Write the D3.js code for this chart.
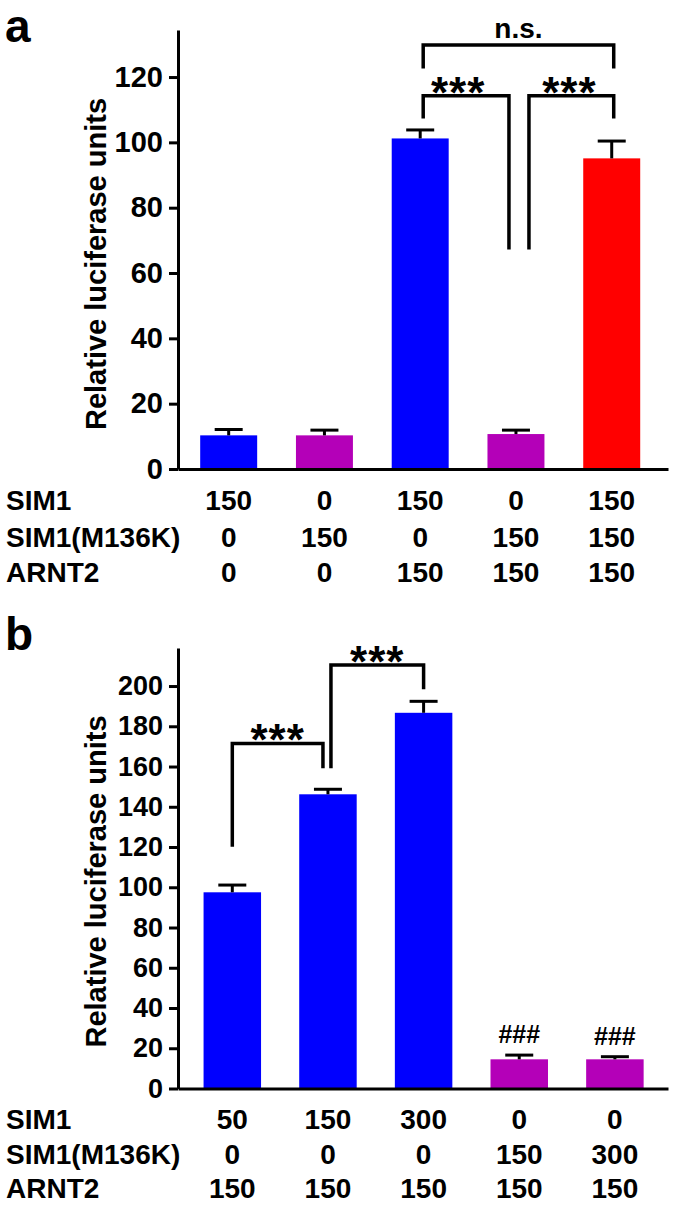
<!DOCTYPE html>
<html>
<head>
<meta charset="utf-8">
<script src="https://cdn.jsdelivr.net/npm/d3@7"></script>
<style>
  html, body { margin: 0; padding: 0; background: #fff; }
  svg { display: block; }
  text { font-family: "Liberation Sans", Arial, Helvetica, sans-serif; font-weight: bold; fill: #000; }
</style>
</head>
<body>
<svg id="chart" width="675" height="1206"></svg>
<script>
// ---------- DATA ----------
const categories = ["g1", "g2", "g3", "g4", "g5"];
const rowLabels = ["SIM1", "SIM1(M136K)", "ARNT2"];

// Panel a
const aSIM1   = [150, 0, 150, 0, 150];
const aM136K  = [0, 150, 0, 150, 150];
const aARNT2  = [0, 0, 150, 150, 150];
const aMeans  = [10.3, 10.3, 101.2, 10.7, 95.1];
const aErrors = [1.8, 1.6, 2.6, 1.2, 5.3];
const aTicks  = [0, 20, 40, 60, 80, 100, 120];
const aBrackets = [
  { from: 2, to: 4, y: 129.8, dropFrom: 122.6, dropTo: 122.6, label: "n.s." },
  { from: 2, to: 3, y: 114.3, dropFrom: 107.3, dropTo: 67.2, label: "***" },
  { from: 3, to: 4, y: 114.3, dropFrom: 67.2, dropTo: 107.3, label: "***" }
];

// Panel b
const bSIM1   = [50, 150, 300, 0, 0];
const bM136K  = [0, 0, 0, 150, 300];
const bARNT2  = [150, 150, 150, 150, 150];
const bMeans  = [97.5, 146.2, 186.7, 14.5, 14.5];
const bErrors = [3.6, 2.5, 5.7, 2.1, 1.3];
const bTicks  = [0, 20, 40, 60, 80, 100, 120, 140, 160, 180, 200];
const bBrackets = [
  { from: 0, to: 1, y: 171.5, dropFrom: 120.1, dropTo: 159.1, label: "***" },
  { from: 1, to: 2, y: 210.4, dropFrom: 159.1, dropTo: 198.4, label: "***" }
];
const bMarks = ["", "", "", "###", "###"];

// ---------- STYLE / LAYOUT ----------
const BLUE = "#0000ff", MAG = "#b400b8", RED = "#ff0000";
const svg = d3.select("#chart");

function drawPanel(cfg) {
  const g = svg.append("g");
  const x = d3.scaleBand().domain(categories).range(cfg.xRange)
    .paddingInner(cfg.pi).paddingOuter(cfg.po).align(cfg.align);
  const y = d3.scaleLinear().domain(cfg.yDomain).range(cfg.yRange);
  const cx = i => x(categories[i]) + x.bandwidth() / 2;

  // panel letter
  g.append("text").attr("x", cfg.letterPos[0]).attr("y", cfg.letterPos[1])
    .style("font-size", "46px").text(cfg.letter);

  // bars
  g.selectAll("rect.bar").data(cfg.means).enter().append("rect")
    .attr("x", (d, i) => x(categories[i]))
    .attr("width", x.bandwidth())
    .attr("y", d => y(d))
    .attr("height", d => y(0) - y(d))
    .attr("fill", (d, i) => cfg.colors[i]);

  // error bars
  const eb = g.append("g").attr("stroke", "#000").attr("stroke-width", 3);
  cfg.means.forEach((m, i) => {
    eb.append("line").attr("x1", cx(i)).attr("x2", cx(i))
      .attr("y1", y(m)).attr("y2", y(m + cfg.errors[i]));
    eb.append("line").attr("x1", cx(i) - 14).attr("x2", cx(i) + 14)
      .attr("y1", y(m + cfg.errors[i])).attr("y2", y(m + cfg.errors[i]));
  });

  // y axis
  const ya = g.append("g").attr("transform", `translate(${cfg.xRange[0]},0)`)
    .call(d3.axisLeft(y).tickValues(cfg.ticks).tickSize(9).tickSizeOuter(0).tickPadding(6));
  ya.selectAll("path, line").attr("stroke", "#000").attr("stroke-width", 3);
  ya.selectAll("text").style("font-size", cfg.tickFont + "px")
    .attr("font-family", null).attr("fill", "#000");
  ya.attr("font-family", null).attr("font-size", null);

  // x axis baseline
  const xa = g.append("g").attr("transform", `translate(0,${y(0)})`)
    .call(d3.axisBottom(x).tickSize(0).tickSizeOuter(0).tickFormat(""));
  xa.selectAll("path").attr("stroke", "#000").attr("stroke-width", 3);
  xa.selectAll(".tick").remove();

  // y title
  g.append("text")
    .attr("transform", `translate(${cfg.titlePos[0]},${cfg.titlePos[1]}) rotate(-90)`)
    .attr("text-anchor", "middle").style("font-size", "29px")
    .text("Relative luciferase units");

  // rows
  cfg.rows.forEach((vals, r) => {
    g.append("text").attr("x", 6).attr("y", cfg.rowY[r])
      .style("font-size", "28px").text(rowLabels[r]);
    vals.forEach((v, i) => {
      g.append("text").attr("x", cx(i)).attr("y", cfg.rowY[r])
        .attr("text-anchor", "middle").style("font-size", "28px").text(v);
    });
  });

  // brackets
  cfg.brackets.forEach(b => {
    const x1 = cx(b.from) + (b.offFrom || 0);
    const x2 = cx(b.to) + (b.offTo || 0);
    g.append("path")
      .attr("d", `M${x1},${y(b.dropFrom)}V${y(b.y)}H${x2}V${y(b.dropTo)}`)
      .attr("fill", "none").attr("stroke", "#000").attr("stroke-width", 3.5)
      .attr("stroke-linejoin", "miter");
    if (b.label === "n.s.") {
      g.append("text").attr("x", (x1 + x2) / 2).attr("y", y(b.y) - 7)
        .attr("text-anchor", "middle").style("font-size", "28px").text(b.label);
    } else {
      g.append("text").attr("x", (x1 + x2) / 2 + (b.labelShift || 0)).attr("y", y(b.y) + 12)
        .attr("text-anchor", "middle").style("font-size", "44px")
        .style("letter-spacing", "1px").text(b.label);
    }
  });

  // marks above bars
  if (cfg.marks) {
    cfg.marks.forEach((m, i) => {
      if (!m) return;
      g.append("text").attr("x", cx(i)).attr("y", y(cfg.means[i] + cfg.errors[i]) - 12)
        .attr("text-anchor", "middle").style("font-size", "25px").text(m);
    });
  }
}

// offsets for bracket legs near shared bars
aBrackets[0].offFrom = 3;  aBrackets[0].offTo = 2;
aBrackets[1].offFrom = 3;  aBrackets[1].offTo = -7;
aBrackets[2].offFrom = 13; aBrackets[2].offTo = 2;
aBrackets[1].labelShift = -8;
aBrackets[2].labelShift = -2;
bBrackets[0].offTo = -5;
bBrackets[1].offFrom = 3;

drawPanel({
  letter: "a", letterPos: [5, 41.5],
  xRange: [178, 668], pi: 0.405, po: 0.261, align: 0.444,
  yDomain: [0, 134.4], yRange: [469, 30],
  means: aMeans, errors: aErrors, colors: [BLUE, MAG, BLUE, MAG, RED],
  ticks: aTicks, tickFont: 29,
  titlePos: [106, 264],
  rows: [aSIM1, aM136K, aARNT2], rowY: [510, 546.7, 581.7],
  brackets: aBrackets
});

drawPanel({
  letter: "b", letterPos: [5, 650],
  xRange: [178, 668], pi: 0.399, po: 0.261, align: 0.512,
  yDomain: [0, 218.9], yRange: [1088.5, 648],
  means: bMeans, errors: bErrors, colors: [BLUE, BLUE, BLUE, MAG, MAG],
  ticks: bTicks, tickFont: 27,
  titlePos: [106, 881.5],
  rows: [bSIM1, bM136K, bARNT2], rowY: [1129, 1164, 1198],
  brackets: bBrackets, marks: bMarks
});
</script>
</body>
</html>
